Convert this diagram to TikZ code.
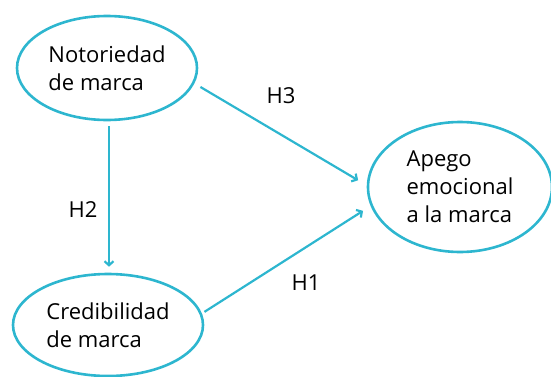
\documentclass[tikz,border=0pt]{standalone}
\usepackage{fontspec}
\setmainfont{Open Sans}
\usepackage{xcolor}
\usetikzlibrary{shapes.geometric,arrows.meta}
\definecolor{lineblue}{HTML}{2DB6CF}

\begin{document}
\begin{tikzpicture}[x=1pt,y=1pt, >={Straight Barb[length=4pt,width=9pt]},
    constructo/.style={ellipse,draw=lineblue,line width=2.6pt,align=left,
        font=\fontsize{22}{28}\selectfont,inner sep=0pt},
    hipo/.style={->,draw=lineblue,line width=2.2pt},
    etiqueta/.style={font=\fontsize{22}{24}\selectfont,inner sep=0pt}]
    \useasboundingbox (0,0) rectangle (551,376);
    \node[constructo,minimum width=180,minimum height=104] (notoriedad) at (107,308)
        {Notoriedad\\de marca};
    \node[constructo,minimum width=184,minimum height=130] (apego) at (460,189)
        {Apego\\emocional\\a la marca};
    \node[constructo,minimum width=190,minimum height=102] (credib) at (108,51)
        {Credibilidad\\de marca};
    \draw[hipo,shorten <=5pt,shorten >=6pt] ([xshift=2pt]notoriedad.south) --
        ([xshift=1pt]credib.north);
    \draw[hipo,shorten <=7pt,shorten >=10pt] (notoriedad.-10) -- (apego.179);
    \draw[hipo,shorten <=3pt,shorten >=9pt] (credib.7) -- (apego.-168);
    \node[etiqueta] (h2) at (83,166) {H2};
    \node[etiqueta] (h3) at (281,280) {H3};
    \node[etiqueta] (h1) at (306,93) {H1};
\end{tikzpicture}
\end{document}
